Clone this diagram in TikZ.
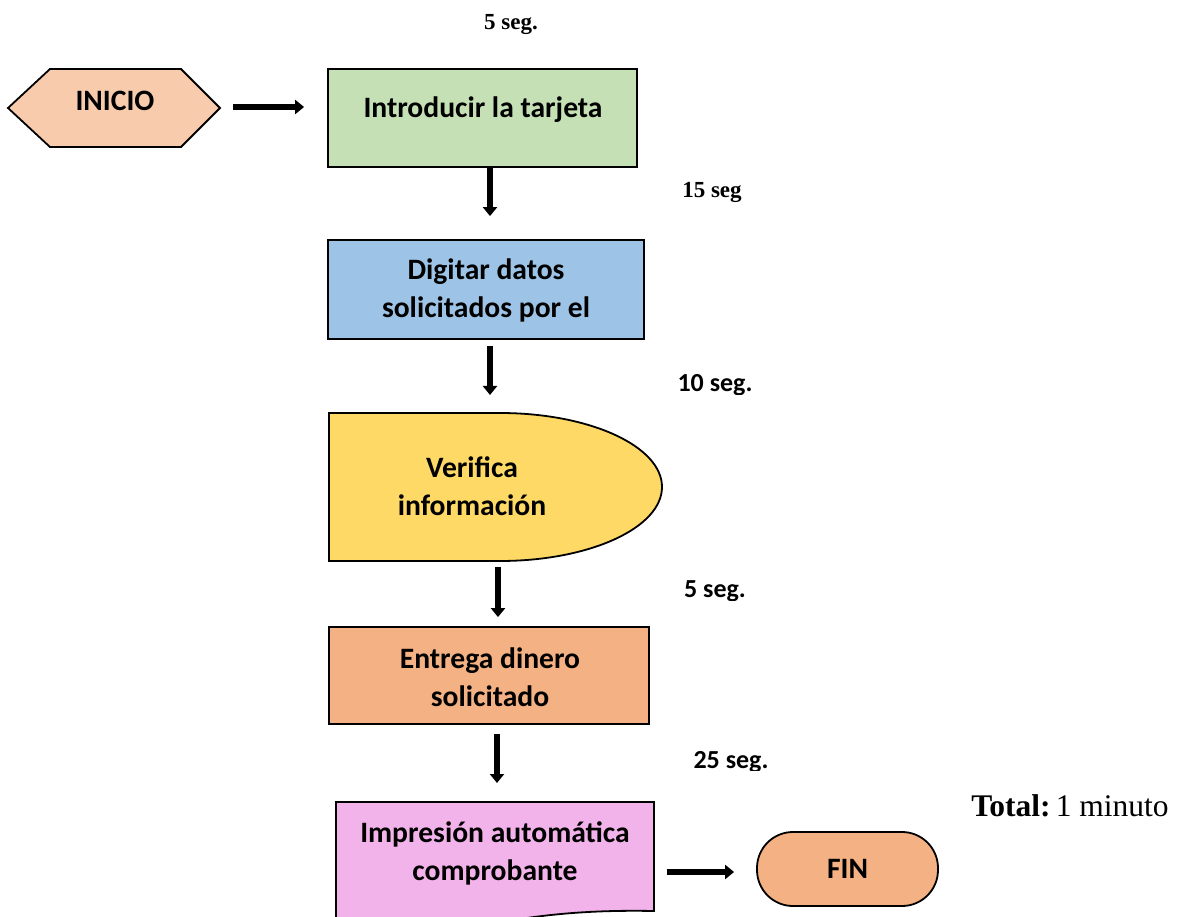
\documentclass[tikz,border=0pt]{standalone}
\usepackage{fontspec}
\setmainfont{Liberation Serif}
\newfontfamily\calibri{Carlito}
\usetikzlibrary{arrows.meta}

\definecolor{cInicio}{HTML}{F8CBAD}
\definecolor{cGreen}{HTML}{C5E0B4}
\definecolor{cBlue}{HTML}{9DC3E6}
\definecolor{cYellow}{HTML}{FFD966}
\definecolor{cOrange}{HTML}{F4B183}
\definecolor{cPink}{HTML}{F2B3EA}

\tikzset{
  outline/.style={draw=black, line width=1.8pt},
  box/.style={outline, rectangle, inner sep=0pt},
  txt/.style={font=\calibri\bfseries\fontsize{29.6}{38}\selectfont, align=center, inner sep=0pt},
  timeserif/.style={font=\bfseries\fontsize{23}{28}\selectfont, inner sep=0pt},
  timesans/.style={font=\calibri\bfseries\fontsize{26}{30}\selectfont, inner sep=0pt, anchor=base},
  flow/.style={line width=5.5pt, -{Triangle[width=14pt,length=9pt]}},
}

\begin{document}
\begin{tikzpicture}[x=1pt,y=-1pt]
\useasboundingbox (0,0) rectangle (1187,917);
\clip (0,0) rectangle (1187,917);

% start: hexagon
\draw[outline, fill=cInicio] (8,108) -- (50,69) -- (181,69) -- (220,108) -- (181,147) -- (50,147) -- cycle;
\coordinate (inicioR) at (220,107);
\node[txt] (inicio) at (115,101) {INICIO};

% step 1
\node[box, fill=cGreen, minimum width=309, minimum height=98] (b1) at (482.5,118) {};
\node[txt] (t1) at (483,110) {Introducir la tarjeta};

% step 2
\node[box, fill=cBlue, minimum width=316, minimum height=99] (b2) at (486,289.5) {};
\node[txt] (t2) at (486,290) {Digitar datos\\solicitados por el};

% step 3: delay shape
\draw[outline, fill=cYellow] (329,413) -- (500,413)
  arc[start angle=90, end angle=-90, x radius=162pt, y radius=74pt] -- (329,561) -- cycle;
\coordinate (b3top) at (498,413);
\coordinate (b3bot) at (498,561);
\node[txt] (t3) at (472,486) {Verifica\\información};

% step 4
\node[box, fill=cOrange, minimum width=320, minimum height=97] (b4) at (489,675.5) {};
\node[txt] (t4) at (490,677) {Entrega dinero\\solicitado};

% step 5: document shape
\draw[outline, fill=cPink] (336,802) -- (654,802) -- (654,911)
  .. controls (600,910) and (560,913) .. (520,919)
  .. controls (450,930) and (400,940) .. (336,945) -- cycle;
\coordinate (b5top) at (497,802);
\coordinate (b5right) at (654,872);
\node[txt] (t5) at (495,853) {Impresión automática\\comprobante};

% end
\node[outline, fill=cOrange, rounded corners=36pt, minimum width=181, minimum height=74, txt] (fin) at (847.5,869) {FIN};

% connectors
\draw[flow] ([xshift=13pt]inicioR) -- ([xshift=-23pt]b1.west |- inicioR);
\draw[flow] ([xshift=7.5pt]b1.south) -- ([xshift=7.5pt,yshift=23pt]b1.south |- b2.north);
\draw[flow] ([xshift=4pt,yshift=-6pt]b2.south) -- ([xshift=4pt,yshift=18pt]b2.south |- b3top);
\draw[flow] ([yshift=-6pt]b3bot) -- ([yshift=9pt]b3bot |- b4.north);
\draw[flow] ([xshift=8pt,yshift=-9pt]b4.south) -- ([xshift=8pt,yshift=19pt]b4.south |- b5top);
\draw[flow] ([xshift=13pt]b5right) -- ([xshift=-22pt]fin.west |- b5right);

% times
\node[timeserif] (s1) at (511,25) {5 seg.};
\node[timeserif] (s2) at (712,192) {15 seg};
\begin{scope}
  \clip (600,360) rectangle (800,395);
  \node[timesans] (s3) at (715,392) {10 seg.};
\end{scope}
\begin{scope}
  \clip (600,560) rectangle (800,600);
  \node[timesans] (s4) at (715,597) {5 seg.};
\end{scope}
\begin{scope}
  \clip (600,730) rectangle (800,770);
  \node[timesans] (s5) at (731,768) {25 seg.};
\end{scope}

\node[font=\fontsize{31.5}{38}\selectfont, inner sep=0pt] (total) at (1070,806) {\textbf{Total:}\,1 minuto};
\end{tikzpicture}
\end{document}
